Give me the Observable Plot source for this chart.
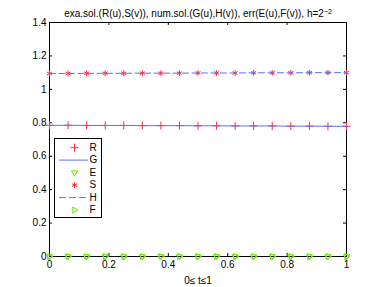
<!DOCTYPE html>
<html><head><meta charset="utf-8">
<script src="https://cdn.jsdelivr.net/npm/d3@7"></script>
<script src="https://cdn.jsdelivr.net/npm/@observablehq/plot@0.6"></script>
<style>body{margin:0;background:#fff}</style>
</head><body><div id="chart"></div>
<script>
const t = [0, 0.0625, 0.125, 0.1875, 0.25, 0.3125, 0.375, 0.4375, 0.5, 0.5625, 0.625, 0.6875, 0.75, 0.8125, 0.875, 0.9375, 1];
const R = [0.785,0.785,0.784,0.784,0.784,0.783,0.783,0.783,0.782,0.782,0.781,0.781,0.781,0.780,0.780,0.779,0.779];
const G = [0.785,0.785,0.784,0.784,0.784,0.783,0.783,0.783,0.782,0.782,0.781,0.781,0.781,0.780,0.780,0.779,0.779];
const E = [0,0,0,0,0,0,0,0,0,0,0,0,0,0,0,0,0];
const S = [1.095,1.095,1.096,1.096,1.096,1.097,1.097,1.097,1.098,1.098,1.098,1.099,1.099,1.099,1.100,1.100,1.100];
const H = [1.095,1.095,1.096,1.096,1.096,1.097,1.097,1.097,1.098,1.098,1.098,1.099,1.099,1.099,1.100,1.100,1.100];
const F = [0,0,0,0,0,0,0,0,0,0,0,0,0,0,0,0,0];
const xTicks = [0, 0.2, 0.4, 0.6, 0.8, 1];
const yTicks = [0, 0.2, 0.4, 0.6, 0.8, 1, 1.2, 1.4];
const legendKeys = ["R", "G", "E", "S", "H", "F"];
const titleMain = "exa.sol.(R(u),S(v)), num.sol.(G(u),H(v)), err(E(u),F(v)), h=2";
const titleSup = "\u22122";
const xLabel = "0\u2264 t\u22641";

const red = "#ff2a3a", blue = "#5a70ff", green = "#70e800";
const W = 382, Ht = 287, mL = 49, mR = 36, mT = 22, mB = 31;
const fw = W - mL - mR, fh = Ht - mT - mB;

const rows = t.map((x, i) => ({t: x, R: R[i], G: G[i], E: E[i], S: S[i], H: H[i], F: F[i]}));
const lineShape = {draw(ctx, l) { ctx.moveTo(0, 0); ctx.lineTo(0, -l); }};

const rPlus = 2.7, rAst = 2.7, rTri = 2.9;
const legendMarks = [];
const rowDy = [125.2, 137.6, 150.1, 162.6, 175.1, 187.6];
const legendStyle = {
  R: {type: "dot", symbol: "plus", stroke: red, r: rPlus},
  G: {type: "line", stroke: blue},
  E: {type: "dot", symbol: "triangle2", stroke: green, rotate: 180, r: rTri},
  S: {type: "dot", symbol: "asterisk", stroke: red, r: rAst},
  H: {type: "line", stroke: blue, dash: "6,4"},
  F: {type: "dot", symbol: "triangle2", stroke: green, rotate: 90, r: rTri}
};
legendKeys.forEach((k, i) => {
  const st = legendStyle[k];
  if (st.type === "dot") {
    legendMarks.push(Plot.dot([k], {frameAnchor: "top-left", dx: 25, dy: rowDy[i], symbol: st.symbol, stroke: st.stroke, r: st.r, rotate: st.rotate || 0, strokeWidth: 1}));
  } else {
    legendMarks.push(Plot.vector([k], {frameAnchor: "top-left", dx: 10, dy: rowDy[i], length: 28, rotate: 90, anchor: "start", shape: lineShape, stroke: st.stroke, strokeDasharray: st.dash || null, strokeWidth: 1}));
  }
  legendMarks.push(Plot.text([k], {frameAnchor: "top-left", dx: 40, dy: rowDy[i], text: d => d, textAnchor: "start", lineAnchor: "middle", fontSize: 10, fill: "black"}));
});

const chart = Plot.plot({
  width: W, height: Ht,
  marginLeft: mL, marginRight: mR, marginTop: mT, marginBottom: mB,
  style: {fontFamily: "'Liberation Sans', Arial, sans-serif", fontSize: "10px", background: "white", color: "black"},
  x: {domain: [0, 1]},
  y: {domain: [0, 1.4]},
  marks: [
    Plot.frame({stroke: "black", strokeWidth: 1}),
    Plot.tickX(xTicks, {x: d => d, insetTop: fh - 3, stroke: "black"}),
    Plot.tickX(xTicks, {x: d => d, insetBottom: fh - 3, stroke: "black"}),
    Plot.tickY(yTicks, {y: d => d, insetRight: fw - 3, stroke: "black"}),
    Plot.tickY(yTicks, {y: d => d, insetLeft: fw - 3, stroke: "black"}),
    Plot.axisX(xTicks, {tickSize: 0, tickPadding: 4, tickFormat: d => String(d), label: null, fontSize: 10}),
    Plot.axisY(yTicks, {tickSize: 0, tickPadding: 3, tickFormat: d => String(d), label: null, fontSize: 10}),
    Plot.dot(rows, {x: "t", y: "R", symbol: "plus", stroke: red, r: rPlus, strokeWidth: 1}),
    Plot.line(rows, {x: "t", y: "G", stroke: blue, strokeWidth: 1}),
    Plot.dot(rows, {x: "t", y: "E", symbol: "triangle2", rotate: 180, stroke: green, r: rTri, strokeWidth: 1}),
    Plot.dot(rows, {x: "t", y: "S", symbol: "asterisk", stroke: red, r: rAst, strokeWidth: 1}),
    Plot.line(rows, {x: "t", y: "H", stroke: blue, strokeWidth: 1, strokeDasharray: "6,3.5"}),
    Plot.dot(rows, {x: "t", y: "F", symbol: "triangle2", rotate: 90, stroke: green, r: rTri, strokeWidth: 1}),
    Plot.frame({insetLeft: 5, insetTop: 116, insetRight: fw - 52, insetBottom: 39, fill: "white", stroke: "black", strokeWidth: 1}),
    ...legendMarks,
    Plot.text([titleMain], {frameAnchor: "top", dy: -9, lineAnchor: "middle", fontSize: 10, fill: "black", text: d => d}),
    Plot.text([xLabel], {frameAnchor: "bottom", dy: 24, lineAnchor: "middle", fontSize: 10, fill: "black", text: d => d})
  ]
});
document.getElementById("chart").append(chart);
// add superscript to the title
d3.select(chart).selectAll("text").filter(function() { return this.textContent === titleMain; }).each(function() {
  const sel = d3.select(this);
  sel.text(null);
  sel.append("tspan").text(titleMain);
  sel.append("tspan").attr("dy", "-0.45em").attr("font-size", 7).text(titleSup);
});
</script>
</body></html>
